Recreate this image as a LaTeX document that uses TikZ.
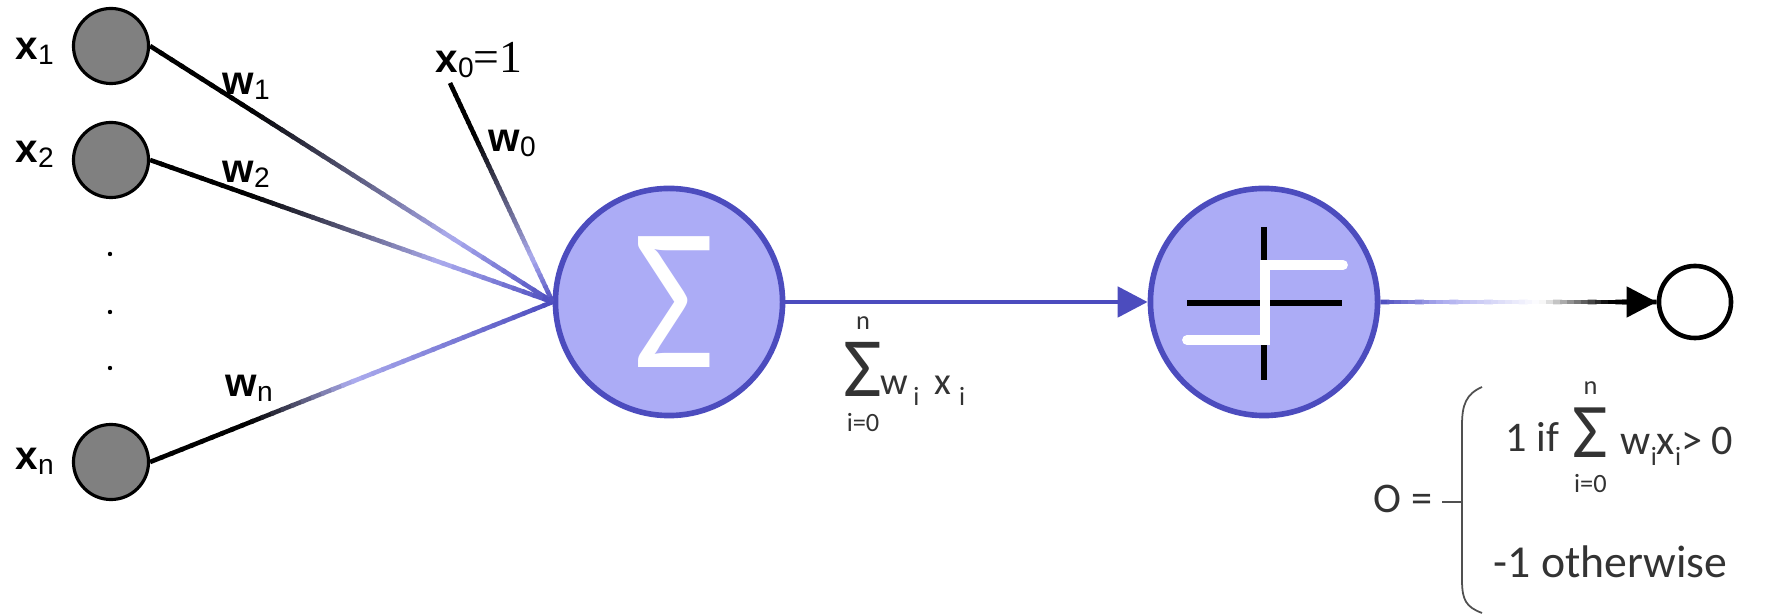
\documentclass[tikz,border=0pt]{standalone}
\usepackage{fontspec}
\setmainfont{Carlito}
\newfontfamily\labfont{Liberation Sans}
\newfontfamily\serfont{Liberation Serif}
\usetikzlibrary{arrows.meta}
\usetikzlibrary{positioning}
\usetikzlibrary{calc}

\definecolor{sumblue}{RGB}{76,76,190}
\definecolor{sumfill}{RGB}{172,172,246}
\definecolor{lavender}{RGB}{172,172,238}
\definecolor{nodegray}{RGB}{128,128,128}
\definecolor{bracegray}{RGB}{80,80,80}

\newcommand{\lsub}[1]{\raisebox{-0.05cm}{\fontsize{8}{9}\selectfont #1}}
\newcommand{\fsub}[1]{\raisebox{-0.1cm}{\fontsize{7.5}{8}\selectfont #1}}

% weight line: black, fading to lavender at #3, then blue at the sum
\newcommand{\weightline}[3]{%
  \foreach \k in {1,...,40}{%
    \pgfmathsetmacro{\t}{(\k-0.5)/40}%
    \pgfmathtruncatemacro{\lo}{\t<#3}%
    \ifnum\lo=1
      \pgfmathsetmacro{\p}{100*max(0,\t-0.25)/(#3-0.25)}%
      \colorlet{segcol}{lavender!\p!black}%
    \else
      \pgfmathsetmacro{\p}{100*(\t-#3)/(1-#3)}%
      \colorlet{segcol}{sumblue!\p!lavender}%
    \fi
    \draw[segcol, weight] ($(#1)!{(\k-1)/40}!(#2)$) -- ($(#1)!{min(1,(\k+0.3)/40)}!(#2)$);
  }}

% output line: blue, lavender, white, black
\newcommand{\outputline}[2]{%
  \foreach \k in {1,...,40}{%
    \pgfmathsetmacro{\t}{(\k-0.5)/40}%
    \pgfmathtruncatemacro{\seg}{(\t>0.22)+(\t>0.58)+(\t>0.83)}%
    \ifcase\seg
      \pgfmathsetmacro{\p}{100*\t/0.22}\colorlet{segcol}{lavender!\p!sumblue}%
    \or
      \pgfmathsetmacro{\p}{100*(\t-0.22)/0.36}\colorlet{segcol}{white!\p!lavender}%
    \or
      \pgfmathsetmacro{\p}{100*(\t-0.58)/0.25}\colorlet{segcol}{black!\p!white}%
    \else
      \colorlet{segcol}{black}%
    \fi
    \draw[segcol, weight] ($(#1)!{(\k-1)/40}!(#2)$) -- ($(#1)!{min(1,(\k+0.3)/40)}!(#2)$);
  }}

\begin{document}
\begin{tikzpicture}[x=0.01cm, y=-0.01cm,
  innode/.style={circle, draw, fill=nodegray, line width=0.9pt, minimum size=0.75cm, inner sep=0pt},
  opnode/.style={circle, draw=sumblue, fill=sumfill, line width=1.6pt, minimum size=2.27cm, inner sep=0pt},
  outnode/.style={circle, draw, fill=white, line width=1.3pt, minimum size=0.72cm, inner sep=0pt},
  lab/.style={font={\labfont\fontsize{11.5}{13}\selectfont}, inner sep=0pt, anchor=base west},
  formula/.style={font={\fontsize{12}{14}\selectfont}, inner sep=0pt, text=black!80},
  weight/.style={line width=1.3pt}]

\useasboundingbox (0,0) rectangle (1770,616);

% inputs
\node[innode] (x1) at (111,46) {};
\node[innode] (x2) at (111,160) {};
\node[innode] (xn) at (111,462) {};
\fill (110,254) circle[radius=0.022cm];
\fill (110,312) circle[radius=0.022cm];
\fill (110,368) circle[radius=0.022cm];
\coordinate (bias) at (450,83);

% sum, step and output
\node[opnode, text=white, font={\fontsize{58}{60}\selectfont}] (sum) at (669,302) {\hspace{0.1cm}\scalebox{0.87}[1]{Σ}};
\node[opnode] (step) at (1264,302) {};
\node[outnode] (out) at (1695,302) {};

% weights
\weightline{x1.east}{sum.west}{0.75}
\weightline{x2.east}{sum.west}{0.72}
\weightline{xn.east}{sum.west}{0.5}
\weightline{bias}{sum.west}{0.8}

\draw[sumblue, line width=1.4pt, -{Triangle[length=0.3cm, width=0.3cm]}] (sum) -- (step);
\outputline{step.east}{out.west}
\draw[black, weight, -{Triangle[length=0.3cm, width=0.3cm]}] ($(step.east)!0.85!(out.west)$) -- (out.west);

% step function
\begin{scope}[shift={(step.center)}]
  \draw[line width=1.7pt] (-77,1) -- (78,1);
  \draw[line width=1.7pt] (0,-75) -- (0,78);
  \draw[white, line width=2.8pt, line cap=round] (-77,38) -- (1,38) -- (1,-37) -- (79,-37);
\end{scope}

% labels
\node[lab] (lx1) at (15,60) {\textbf{x}\lsub{1}};
\node[lab] (lx2) at (15,163) {\textbf{x}\lsub{2}};
\node[lab] (lxn) at (15,470) {\textbf{x}\lsub{n}};
\node[lab] (lw1) at (222,95) {\textbf{w}\lsub{1}};
\node[lab] (lw2) at (222,183) {\textbf{w}\lsub{2}};
\node[lab] (lwn) at (225,397) {\textbf{w}\lsub{n}};
\node[lab] (lw0) at (488,152) {\textbf{w}\lsub{0}};
\node[lab] (lx0) at (435,73) {\textbf{x}\lsub{0}{\serfont\fontsize{13}{14}\selectfont =1}};

% weighted sum
\node[formula, anchor=base west, font={\fontsize{24}{26}\selectfont}] (sig1) at (843,397) {Σ};
\node[formula, font={\fontsize{7.5}{8}\selectfont}, above=0.12cm of sig1] (sig1top) {n};
\node[formula, font={\fontsize{7.5}{8}\selectfont}, below=0.15cm of sig1] (sig1bot) {i=0};
\node[formula, anchor=base west, font={\fontsize{11}{12}\selectfont}] (sumterm) at (880,395) {w\hspace{0.05cm}\fsub{i}\hspace{0.15cm}x\hspace{0.08cm}\fsub{i}};

% output rule
\node[formula, anchor=base west] (oeq) at (1373,513) {O =};
\node[formula, anchor=base west] (case1) at (1505,452) {1 if};
\node[formula, anchor=base west, font={\fontsize{22}{24}\selectfont}] (sig2) at (1572,458) {Σ};
\node[formula, font={\fontsize{7.5}{8}\selectfont}, above=0.12cm of sig2] (sig2top) {n};
\node[formula, font={\fontsize{7.5}{8}\selectfont}, below=0.15cm of sig2] (sig2bot) {i=0};
\node[formula, anchor=base west] (case1b) at (1620,455) {w\fsub{i}x\fsub{i}> 0};
\node[formula, anchor=base west, font={\fontsize{13}{14}\selectfont}] (case2) at (1493,578) {-1 otherwise};
\draw[bracegray, line width=0.5pt] (1482,387) .. controls (1466,394) and (1462,405) .. (1462,425) -- (1462,580) .. controls (1462,600) and (1466,607) .. (1482,613);
\draw[bracegray, line width=0.5pt] (1442,502) -- (1462,502);

\end{tikzpicture}
\end{document}
